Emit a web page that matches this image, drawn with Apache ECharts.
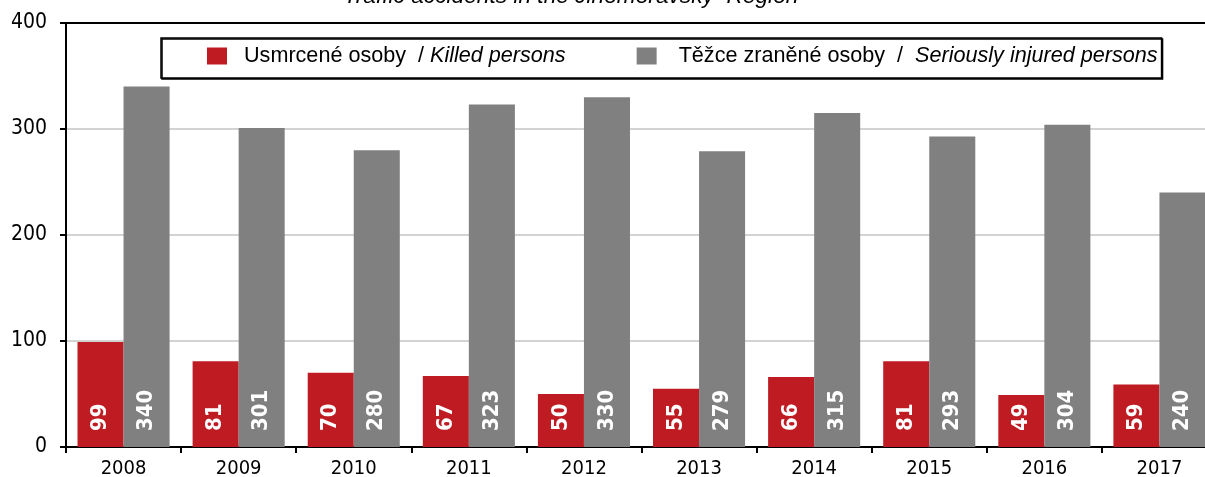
<!DOCTYPE html>
<html>
<head>
<meta charset="utf-8">
<script src="https://cdn.jsdelivr.net/npm/echarts@6/dist/echarts.min.js"></script>
<style>
  html, body { margin: 0; padding: 0; background: #fff; }
  #chart { width: 1205px; height: 477px; }
</style>
</head>
<body>
<div id="chart"></div>
<script>
// Traffic accident casualties per year
const titleText = 'Traffic accidents in the Jihomoravský  Region';
const years = ['2008', '2009', '2010', '2011', '2012', '2013', '2014', '2015', '2016', '2017'];
const killed = [99, 81, 70, 67, 50, 55, 66, 81, 49, 59];
const injured = [340, 301, 280, 323, 330, 279, 315, 293, 304, 240];
const killedName = ['Usmrcené osoby', 'Killed persons'];
const injuredName = ['Těžce zraněné osoby', 'Seriously injured persons'];
const yMin = 0, yMax = 400, yStep = 100;

const RED = '#be1b22';
const GREY = '#808080';
const axisFont = 'DejaVu Sans Condensed, DejaVu Sans, sans-serif';
const textFont = 'Liberation Sans, Arial, sans-serif';
const legendSize = 21.6;

const legendLabels = {};
legendLabels[killedName.join(' / ')] = '{a|' + killedName[0] + '}  {s|/ }{i|' + killedName[1] + '}';
legendLabels[injuredName.join(' / ')] = '{b|' + injuredName[0] + '}  {s|/  }{i|' + injuredName[1] + '}';

const barLabel = {
  show: true,
  position: 'insideBottom',
  distance: 16,
  rotate: 90,
  align: 'left',
  verticalAlign: 'middle',
  color: '#fff',
  fontFamily: axisFont,
  fontWeight: 'bold',
  fontSize: 22
};

const chart = echarts.init(document.getElementById('chart'), null, { renderer: 'canvas' });
chart.setOption({
  animation: false,
  backgroundColor: '#fff',
  graphic: [{
    type: 'text',
    x: 571,
    y: -3,
    style: {
      text: titleText,
      textAlign: 'center',
      textVerticalAlign: 'middle',
      font: 'italic 22.7px ' + textFont,
      fill: '#000'
    }
  }],
  legend: {
    left: 161,
    top: 38,
    padding: [7, 4, 11, 46],
    itemGap: 71,
    itemWidth: 20,
    itemHeight: 17,
    icon: 'rect',
    borderColor: '#000',
    borderWidth: 1.5,
    backgroundColor: '#fff',
    shadowColor: '#000',
    shadowBlur: 0,
    shadowOffsetX: 1,
    shadowOffsetY: 1,
    formatter: name => legendLabels[name],
    textStyle: {
      color: '#000',
      fontFamily: textFont,
      fontSize: legendSize,
      rich: {
        a: { fontFamily: textFont, fontSize: legendSize, padding: [0, 0, 0, 12] },
        b: { fontFamily: textFont, fontSize: legendSize, padding: [0, 0, 0, 17] },
        s: { fontFamily: textFont, fontSize: legendSize },
        i: { fontFamily: textFont, fontSize: legendSize, fontStyle: 'italic' }
      }
    },
    data: [killedName.join(' / '), injuredName.join(' / ')]
  },
  grid: {
    left: 66,
    top: 23,
    width: 1151,
    height: 424,
    show: true,
    borderColor: '#000',
    borderWidth: 2,
    backgroundColor: 'transparent',
    outerBoundsMode: 'none'
  },
  xAxis: {
    type: 'category',
    data: years,
    axisLine: { lineStyle: { color: '#000', width: 2 } },
    axisTick: { show: true, length: 6, lineStyle: { color: '#000', width: 2 } },
    axisLabel: { color: '#000', fontFamily: axisFont, fontSize: 20, margin: 12 },
    splitLine: { show: false }
  },
  yAxis: {
    type: 'value',
    min: yMin,
    max: yMax,
    interval: yStep,
    axisLine: { show: true, lineStyle: { color: '#000', width: 2 } },
    axisTick: { show: true, length: 6, lineStyle: { color: '#000', width: 2 } },
    axisLabel: { color: '#000', fontFamily: axisFont, fontSize: 21, margin: 19 },
    splitLine: { show: true, showMinLine: false, showMaxLine: false, lineStyle: { color: '#c4c4c4', width: 1.5 } }
  },
  series: [
    {
      name: killedName.join(' / '),
      type: 'bar',
      data: killed,
      barGap: '0%',
      barCategoryGap: '20%',
      itemStyle: { color: RED },
      label: barLabel
    },
    {
      name: injuredName.join(' / '),
      type: 'bar',
      data: injured,
      barGap: '0%',
      barCategoryGap: '20%',
      itemStyle: { color: GREY },
      label: barLabel
    }
  ]
});
</script>
</body>
</html>
